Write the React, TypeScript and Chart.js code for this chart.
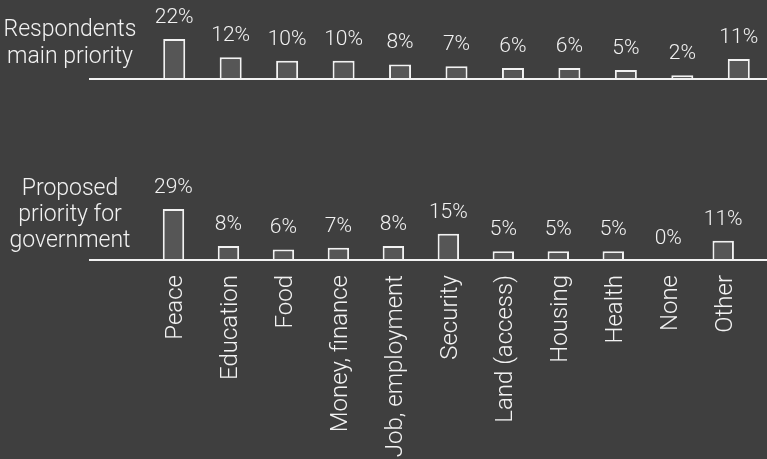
import React, { useEffect, useRef } from "react";
import { Chart, registerables } from "chart.js";

Chart.register(...registerables);

const categories = [
  "Peace",
  "Education",
  "Food",
  "Money, finance",
  "Job, employment",
  "Security",
  "Land (access)",
  "Housing",
  "Health",
  "None",
  "Other",
];
const mainPriority = [22, 12, 10, 10, 8, 7, 6, 6, 5, 2, 11];
const govPriority = [29, 8, 6, 7, 8, 15, 5, 5, 5, 0, 11];
const topRowLabel = ["Respondents", "main priority"];
const bottomRowLabel = ["Proposed", "priority for", "government"];

const BG = "#3f3f3f";
const FG = "#f2f2f2";
const BAR_FILL = "#565656";
const FONT = "Roboto";

function decoPlugin(lines: string[], baselines: number[]) {
  return {
    id: "deco",
    afterDatasetsDraw(chart: any) {
      const ctx = chart.ctx;
      const area = chart.chartArea;
      const meta = chart.getDatasetMeta(0);
      ctx.save();
      ctx.strokeStyle = FG;
      ctx.lineWidth = 2;
      ctx.beginPath();
      ctx.moveTo(89, area.bottom);
      ctx.lineTo(chart.width, area.bottom);
      ctx.stroke();
      ctx.fillStyle = FG;
      ctx.textAlign = "center";
      ctx.textBaseline = "alphabetic";
      ctx.font = `300 21px ${FONT}`;
      meta.data.forEach((bar: any, i: number) => {
        const v = chart.data.datasets[0].data[i];
        ctx.fillText(v + "%", bar.x, bar.y - 16);
      });
      ctx.font = `300 23px ${FONT}`;
      lines.forEach((t, i) => ctx.fillText(t, 70, baselines[i]));
      ctx.restore();
    },
  };
}

function barDataset(values: number[]) {
  return {
    data: values,
    backgroundColor: BAR_FILL,
    borderColor: FG,
    borderWidth: 2,
    borderSkipped: "start" as const,
    barPercentage: 0.39,
    categoryPercentage: 1,
  };
}

export default function App() {
  const topRef = useRef<HTMLCanvasElement>(null);
  const botRef = useRef<HTMLCanvasElement>(null);

  useEffect(() => {
    const top = new Chart(topRef.current!, {
      type: "bar",
      data: { labels: categories, datasets: [barDataset(mainPriority)] },
      options: {
        responsive: false,
        animation: false,
        devicePixelRatio: 1,
        layout: { padding: { left: 146, right: 0, top: 0, bottom: 1 } },
        plugins: { legend: { display: false }, tooltip: { enabled: false } },
        scales: {
          x: { display: false },
          y: { display: false, min: 0, max: 43.5 },
        },
      },
      plugins: [decoPlugin(topRowLabel, [36, 63])],
    });
    const bot = new Chart(botRef.current!, {
      type: "bar",
      data: { labels: categories, datasets: [barDataset(govPriority)] },
      options: {
        responsive: false,
        animation: false,
        devicePixelRatio: 1,
        layout: { padding: { left: 146, right: 0, top: 0, bottom: 0 } },
        plugins: { legend: { display: false }, tooltip: { enabled: false } },
        scales: {
          x: {
            display: true,
            grid: { display: false, drawTicks: false },
            border: { display: false },
            ticks: {
              color: FG,
              font: { family: FONT, size: 24, weight: "300" as any },
              minRotation: 90,
              maxRotation: 90,
              autoSkip: false,
              padding: 15,
              labelOffset: 3,
            },
            afterFit: (s: any) => {
              s.height = 199;
            },
          },
          y: { display: false, min: 0, max: 91 },
        },
      },
      plugins: [decoPlugin(bottomRowLabel, [95, 121, 147])],
    });
    return () => {
      top.destroy();
      bot.destroy();
    };
  }, []);

  return (
    <div style={{ position: "fixed", left: 0, top: 0, width: 767, height: 459, background: BG, overflow: "hidden" }}>
      <canvas ref={topRef} width={767} height={80} style={{ position: "absolute", left: 0, top: 0 }} />
      <canvas ref={botRef} width={767} height={359} style={{ position: "absolute", left: 0, top: 100 }} />
    </div>
  );
}
